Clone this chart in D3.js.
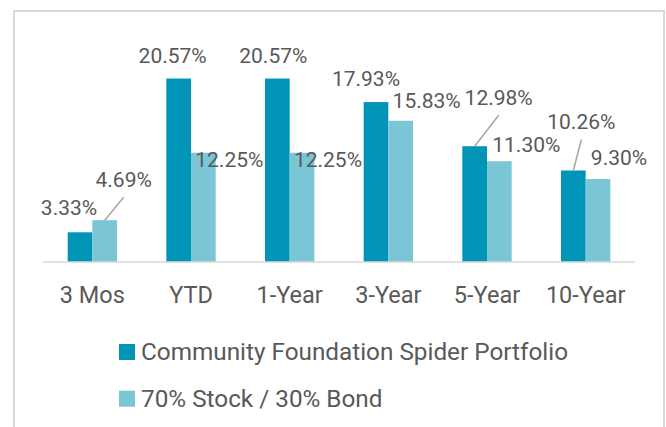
<!DOCTYPE html>
<html>
<head>
<meta charset="utf-8">
<script src="https://cdn.jsdelivr.net/npm/d3@7"></script>
<style>
  body { margin: 0; background: #fff; }
  svg { display: block; font-family: Roboto, "Noto Sans", sans-serif; }
</style>
</head>
<body>
<svg></svg>
<script>
// data
const categories = ["3 Mos", "YTD", "1-Year", "3-Year", "5-Year", "10-Year"];
const seriesNames = ["Community Foundation Spider Portfolio", "70% Stock / 30% Bond"];
const spider = [3.33, 20.57, 20.57, 17.93, 12.98, 10.26];
const stockBond = [4.69, 12.25, 12.25, 15.83, 11.30, 9.30];

// label placement (dx, dy from bar top centre) -- hand placed like the original
const spiderLabelPos = [[-11, -17], [-6, -16], [-4, -16], [-10, -16], [24, -41], [8, -41]];
const bondLabelPos = [[19, -33], [26, 14], [26, 14], [26, -13], [27, -9], [21, -14]];
const spiderLeader = [false, false, false, false, true, true];
const bondLeader = [true, false, false, false, false, false];

const svgWidth = 666;
const svgHeight = 427;
const colors = ["#0095b6", "#7bc6d6"];
const textColor = "#595959";

const svg = d3.select("svg")
    .attr("width", svgWidth)
    .attr("height", svgHeight);

// outer frame (bottom edge runs off the picture)
svg.append("rect")
    .attr("x", 14).attr("y", 11)
    .attr("width", 650).attr("height", 500)
    .attr("fill", "none")
    .attr("stroke", "#d9d9d9")
    .attr("stroke-width", 2);

const x0 = d3.scaleBand()
    .domain(categories)
    .range([43, 635])
    .paddingInner(0.5)
    .paddingOuter(0.25);

const x1 = d3.scaleBand()
    .domain([0, 1])
    .range([0, x0.bandwidth()]);

const y = d3.scaleLinear().domain([0, 25]).range([262, 39]);

const series = [spider, stockBond];
const labelPos = [spiderLabelPos, bondLabelPos];
const leaders = [spiderLeader, bondLeader];

// bars
series.forEach((vals, s) => {
    svg.append("g").selectAll("rect")
        .data(vals)
        .enter().append("rect")
        .attr("x", (d, i) => x0(categories[i]) + x1(s))
        .attr("y", d => y(d))
        .attr("width", x1.bandwidth())
        .attr("height", d => y(0) - y(d))
        .attr("fill", colors[s]);
});

// axis line
svg.append("line")
    .attr("x1", x0.range()[0]).attr("x2", x0.range()[1])
    .attr("y1", y(0)).attr("y2", y(0))
    .attr("stroke", "#d9d9d9")
    .attr("stroke-width", 1.5);

// category labels
const xAxis = svg.append("g")
    .attr("transform", "translate(0," + y(0) + ")")
    .call(d3.axisBottom(x0).tickSize(0).tickPadding(24));
xAxis.select(".domain").remove();
xAxis.selectAll("text")
    .attr("font-size", 23.5)
    .attr("font-family", "Roboto")
    .attr("fill", textColor);

// data labels + leader lines
series.forEach((vals, s) => {
    vals.forEach((v, i) => {
        const cx = x0(categories[i]) + x1(s) + x1.bandwidth() / 2;
        const top = y(v);
        const lx = cx + labelPos[s][i][0];
        const ly = top + labelPos[s][i][1];
        if (leaders[s][i]) {
            svg.append("line")
                .attr("x1", lx).attr("y1", ly + 10)
                .attr("x2", cx).attr("y2", top)
                .attr("stroke", "#a6a6a6")
                .attr("stroke-width", 1.5);
        }
        svg.append("text")
            .attr("x", lx).attr("y", ly)
            .attr("text-anchor", "middle")
            .attr("font-size", 21)
            .attr("fill", textColor)
            .text(v.toFixed(2) + "%");
    });
});

// legend
const legend = svg.append("g").selectAll("g")
    .data(seriesNames)
    .enter().append("g")
    .attr("transform", (d, i) => "translate(119," + (360 + i * 46.7) + ")");

legend.append("rect")
    .attr("x", 0).attr("y", -16)
    .attr("width", 16).attr("height", 16)
    .attr("fill", (d, i) => colors[i]);

legend.append("text")
    .attr("x", 22).attr("y", 0)
    .attr("font-size", 24.3)
    .attr("fill", textColor)
    .text(d => d);
</script>
</body>
</html>
